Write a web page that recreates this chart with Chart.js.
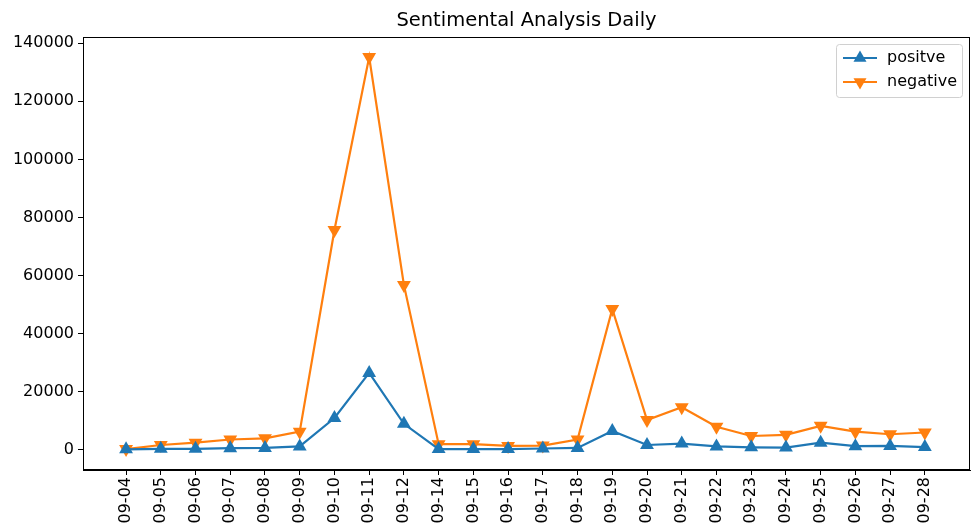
<!DOCTYPE html>
<html>
<head>
<meta charset="utf-8">
<script src="https://cdn.jsdelivr.net/npm/chart.js@4"></script>
<style>
  html, body { margin: 0; padding: 0; background: #fff; }
  #wrap { width: 971px; height: 531px; }
</style>
</head>
<body>
<div id="wrap"><canvas id="sentChart" width="971" height="531"></canvas></div>
<script>
const dates = ["09-04", "09-05", "09-06", "09-07", "09-08", "09-09", "09-10", "09-11", "09-12",
  "09-14", "09-15", "09-16", "09-17", "09-18", "09-19", "09-20", "09-21", "09-22", "09-23",
  "09-24", "09-25", "09-26", "09-27", "09-28"];
const positive = [200, 400, 400, 600, 700, 1200, 11000, 26500, 9000,
  300, 300, 300, 500, 700, 6500, 1700, 2200, 1200, 900,
  800, 2500, 1300, 1400, 1000];
const negative = [300, 1700, 2500, 3600, 4000, 6300, 75700, 135200, 56800,
  2000, 2000, 1400, 1500, 3600, 48500, 10300, 14700, 8000, 4800,
  5200, 8300, 6300, 5400, 6000];
const yTicks = [0, 20000, 40000, 60000, 80000, 100000, 120000, 140000];

const FONT = "DejaVu Sans";
const BLUE = "#1f77b4";
const ORANGE = "#ff7f0e";

// markers shouldn't push the plot area inwards
Chart.LineController.prototype.getMaxOverflow = () => 0;

// box, title and legend drawn the matplotlib way
const frame = {
  id: "frame",
  afterDraw(chart) {
    const { ctx, chartArea: a } = chart;
    ctx.save();
    ctx.strokeStyle = "#000";
    ctx.lineWidth = 1;
    ctx.strokeRect(a.left + 0.5, a.top + 0.5, a.right - a.left - 1, a.bottom - a.top - 1);

    ctx.fillStyle = "#000";
    ctx.font = "19.5px " + FONT;
    ctx.textAlign = "center";
    ctx.textBaseline = "middle";
    ctx.fillText("Sentimental Analysis Daily", (a.left + a.right) / 2, 21);

    // legend
    const bx = 836, by = 44, bw = 126, bh = 53;
    ctx.fillStyle = "rgba(255,255,255,0.8)";
    ctx.strokeStyle = "#d0d0d0";
    ctx.beginPath();
    ctx.roundRect(bx + 0.5, by + 0.5, bw, bh, 3);
    ctx.fill();
    ctx.stroke();
    const items = [["positve", BLUE, 0], ["negative", ORANGE, 180]];
    items.forEach(([label, color, rot], i) => {
      const y = by + 14 + i * 24;
      ctx.strokeStyle = color;
      ctx.lineWidth = 2;
      ctx.beginPath();
      ctx.moveTo(843, y);
      ctx.lineTo(877, y);
      ctx.stroke();
      ctx.fillStyle = color;
      ctx.beginPath();
      const r = 7.5, s = rot ? -1 : 1;
      ctx.moveTo(860, y - s * r);
      ctx.lineTo(860 + r * 0.87, y + s * r * 0.5);
      ctx.lineTo(860 - r * 0.87, y + s * r * 0.5);
      ctx.closePath();
      ctx.fill();
      ctx.fillStyle = "#000";
      ctx.font = "16px " + FONT;
      ctx.textAlign = "left";
      ctx.fillText(label, 887, y);
    });
    ctx.restore();
  }
};

const ctx = document.getElementById("sentChart").getContext("2d");

new Chart(ctx, {
  type: "line",
  data: {
    datasets: [
      {
        label: "positve",
        data: positive.map((v, i) => ({ x: i, y: v })),
        borderColor: BLUE,
        backgroundColor: BLUE,
        borderWidth: 2.2,
        pointStyle: "triangle",
        pointRadius: 8,
        pointBorderWidth: 0,
        tension: 0,
      },
      {
        label: "negative",
        data: negative.map((v, i) => ({ x: i, y: v })),
        borderColor: ORANGE,
        backgroundColor: ORANGE,
        borderWidth: 2.2,
        pointStyle: "triangle",
        pointRotation: 180,
        pointRadius: 8,
        pointBorderWidth: 0,
        tension: 0,
      },
    ],
  },
  plugins: [frame],
  options: {
    responsive: false,
    animation: false,
    layout: { padding: { top: 37, right: 1, left: 0, bottom: 0 } },
    plugins: {
      legend: { display: false },
      title: { display: false },
      tooltip: { enabled: false },
    },
    scales: {
      x: {
        type: "linear",
        min: -1.24,
        max: 24.3,
        afterBuildTicks: (scale) => {
          scale.ticks = dates.map((d, i) => ({ value: i }));
        },
        afterFit: (scale) => {
          scale.height = 61;
          scale.paddingLeft = 0;
          scale.paddingRight = 0;
        },
        ticks: {
          autoSkip: false,
          maxRotation: 90,
          minRotation: 90,
          color: "#000",
          font: { family: FONT, size: 16 },
          padding: 2,
          callback: (v) => dates[v],
        },
        grid: {
          drawOnChartArea: false,
          tickLength: 5,
          color: "#000",
        },
        border: { color: "#000" },
      },
      y: {
        min: -6900,
        max: 142100,
        afterBuildTicks: (scale) => {
          scale.ticks = yTicks.map((v) => ({ value: v }));
        },
        afterFit: (scale) => {
          scale.width = 83;
          scale.paddingTop = 0;
          scale.paddingBottom = 0;
        },
        ticks: {
          color: "#000",
          font: { family: FONT, size: 16 },
          padding: 4,
          callback: (v) => String(v),
        },
        grid: {
          drawOnChartArea: false,
          tickLength: 5,
          color: "#000",
        },
        border: { color: "#000" },
      },
    },
  },
});
</script>
</body>
</html>
